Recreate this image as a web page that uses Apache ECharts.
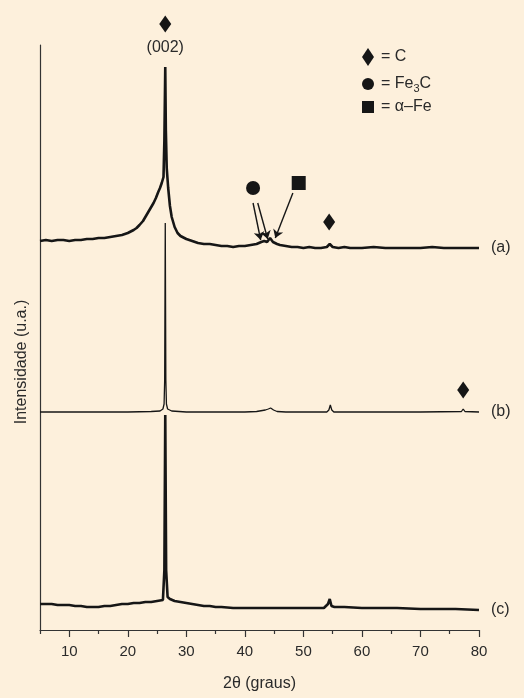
<!DOCTYPE html>
<html>
<head>
<meta charset="utf-8">
<script src="https://cdn.jsdelivr.net/npm/echarts@6/dist/echarts.min.js"></script>
<style>
html,body{margin:0;padding:0;background:#fdf0dc;}
#c{width:524px;height:698px;}
</style>
</head>
<body>
<div id="c"></div>
<script>
// 2θ (graus) vs intensity (arbitrary units, curves stacked with offsets)
var traceA = [[5,389],[6,390],[7,389],[8,390],[9,390],[10,389],[11,390],[12,390],[13,391],[14,391],[15,392],[16,392],[17,393],[18,394],[19,395],[20,397],[21,400],[21.5,402],[22,405],[22.6,409],[23.2,415],[23.8,421],[24.4,427],[24.8,432],[25.2,438],[25.5,442],[25.8,447],[26.1,453],[26.25,490],[26.4,563],[26.5,500],[26.65,462],[26.9,442],[27.2,424],[27.5,413],[28,403],[28.5,397],[29,394],[30,391],[31,389],[32,387],[33,386],[34,386],[35,385],[36,384],[37,384],[38,383],[39,384],[40,384],[41,385],[42,386],[42.8,388],[43.3,389],[43.8,388],[44.3,392],[44.8,388],[45.5,386],[46,385],[47,384],[48,383],[49,383],[50,382],[51,383],[52,382],[53,382],[54,383],[54.5,386],[55,383],[56,382],[57,383],[58,382],[60,382],[62,383],[64,382],[66,382],[68,382],[70,382],[72,383],[74,382],[76,382],[78,382],[80,382]];
var traceB = [[5,218],[10,218],[15,218],[20,218],[24,218.5],[25.5,219],[26,221],[26.2,226],[26.3,250],[26.4,407],[26.5,250],[26.6,226],[26.8,221],[27.5,219],[30,218],[35,218],[40,218],[42,218.5],[43,219.5],[43.5,220],[44,221],[44.4,222],[44.9,220],[45.5,218.5],[47,218],[50,218],[54,218],[54.35,220],[54.6,225],[54.85,220],[55.2,218],[60,218],[70,218],[77,218.5],[77.3,221],[77.6,218.5],[80,218]];
var traceC = [[5,26],[6,26],[7,26],[8,25],[9,25],[10,25],[11,24],[12,24],[13,23],[14,23],[15,23],[16,24],[17,24],[18,25],[19,26],[20,26],[21,27],[22,27],[23,28],[24,28],[25,29],[26,30],[26.25,60],[26.4,215],[26.55,60],[26.8,33],[27.2,31],[28,29],[29,28],[30,27],[31,26],[32,25],[33,24],[34,24],[35,23],[36,23],[38,22],[40,22],[42,22],[44,22],[46,22],[48,22],[50,22],[52,22],[53.5,22],[54.2,26],[54.5,31],[54.8,24],[55.3,23],[57,23],[60,22],[63,22],[66,22],[70,21],[73,21],[76,21],[80,20]];
var curveLabels = ['(a)','(b)','(c)'];
var markC = [[26.4,606],[54.4,408],[77.3,240]];
var markFe3C = [[41.4,442]];
var markAlphaFe = [[49.2,447]];
var peakLabel = [[26.4,582,'(002)']];
var arrows = [[[41.4,427],[42.7,390]],[[42.2,427],[43.9,391]],[[48.2,437],[45.2,392]]];
var majorTicks = [10,20,30,40,50,60,70,80];
var minorTicks = [5,15,25,35,45,55,65,75];

var ink = '#2a2a2a';
var font = 'Liberation Sans, Arial, sans-serif';
var chart = echarts.init(document.getElementById('c'));

function curve(name, data, w) {
  return {
    name: name, type: 'line', data: data, showSymbol: false, symbol: 'none',
    lineStyle: {color: '#161616', width: w}, silent: true, animation: false, clip: false,
    endLabel: {show: true, formatter: name, distance: 12, color: ink, fontSize: 16, fontFamily: font}
  };
}

chart.setOption({
  backgroundColor: '#fdf0dc',
  animation: false,
  grid: {left: 40, right: 45, top: 45, bottom: 68},
  xAxis: [{
    type: 'value', min: 5, max: 80,
    name: '2θ (graus)', nameLocation: 'middle', nameGap: 46,
    nameTextStyle: {color: ink, fontSize: 16, fontFamily: font},
    axisLine: {show: true, lineStyle: {color: '#333', width: 1.2}},
    axisTick: {show: true, length: 7, customValues: majorTicks, lineStyle: {color: '#333', width: 1.2}},
    axisLabel: {show: true, customValues: majorTicks, margin: 14, color: ink, fontSize: 15, fontFamily: font},
    splitLine: {show: false}
  }, {
    type: 'value', min: 5, max: 80, position: 'bottom',
    axisLine: {show: false},
    axisTick: {show: true, length: 4, customValues: minorTicks, lineStyle: {color: '#333', width: 1.2}},
    axisLabel: {show: false},
    splitLine: {show: false}
  }],
  yAxis: {
    type: 'value', min: 0, max: 585,
    axisLine: {show: true, lineStyle: {color: '#333', width: 1.2}},
    axisTick: {show: false}, axisLabel: {show: false}, splitLine: {show: false}
  },
  series: [
    curve(curveLabels[0], traceA, 2.6),
    curve(curveLabels[1], traceB, 1.3),
    curve(curveLabels[2], traceC, 2.6),
    {name: 'C', type: 'scatter', data: markC, symbol: 'diamond', symbolSize: [12, 17],
     itemStyle: {color: '#161616', opacity: 1}, clip: false, silent: true},
    {name: 'Fe3C', type: 'scatter', data: markFe3C, symbol: 'circle', symbolSize: 14,
     itemStyle: {color: '#161616', opacity: 1}, clip: false, silent: true},
    {name: 'α–Fe', type: 'scatter', data: markAlphaFe, symbol: 'rect', symbolSize: 14,
     itemStyle: {color: '#161616', opacity: 1}, clip: false, silent: true},
    {name: 'peak', type: 'scatter', data: peakLabel, symbolSize: 0, clip: false, silent: true,
     itemStyle: {opacity: 1},
     label: {show: true, position: 'inside', formatter: function (p) { return p.data[2]; },
             color: ink, fontSize: 16, fontFamily: font}},
    {name: 'arrows', type: 'lines', coordinateSystem: 'cartesian2d', polyline: false,
     data: arrows.map(function (a) { return {coords: a}; }),
     lineStyle: {color: '#161616', width: 1.4, opacity: 1, curveness: 0},
     symbol: ['none', 'arrow'], symbolSize: 8, silent: true}
  ],
  graphic: [
    {type: 'polygon', shape: {points: [[368, 48], [374, 57], [368, 66], [362, 57]]}, style: {fill: '#161616'}},
    {type: 'text', x: 381, y: 57, style: {text: '= C', fill: ink, font: '16px ' + font, verticalAlign: 'middle'}},
    {type: 'circle', shape: {cx: 368, cy: 84, r: 6}, style: {fill: '#161616'}},
    {type: 'text', x: 381, y: 84, style: {
      text: '= Fe{s|3}C', fill: ink, font: '16px ' + font, verticalAlign: 'middle',
      rich: {s: {fontSize: 11, padding: [10, 0, 0, 0], fill: ink, fontFamily: font}}}},
    {type: 'rect', shape: {x: 362, y: 101, width: 12, height: 12}, style: {fill: '#161616'}},
    {type: 'text', x: 381, y: 107, style: {text: '= α–Fe', fill: ink, font: '16px ' + font, verticalAlign: 'middle'}},
    {type: 'text', x: 22, y: 362, rotation: Math.PI / 2, style: {
      text: 'Intensidade (u.a.)', fill: ink, font: '16px ' + font, align: 'center', verticalAlign: 'middle'}}
  ]
});
</script>
</body>
</html>
